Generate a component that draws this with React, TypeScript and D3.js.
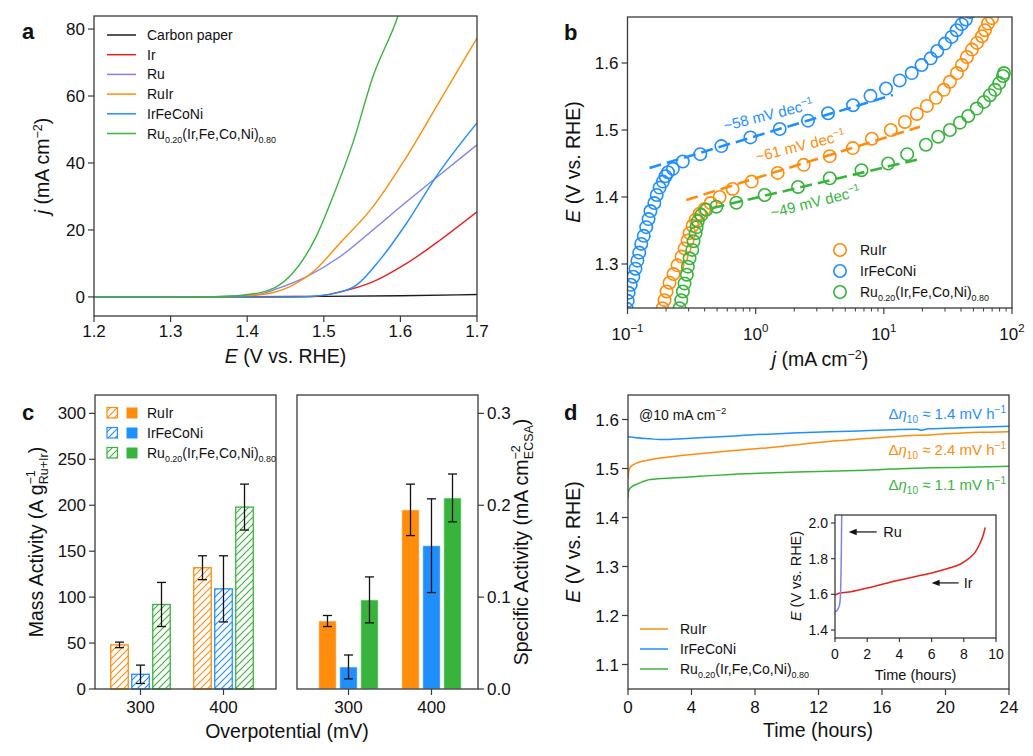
import React from "react";
import * as d3 from "d3";

type P = [number, number];

const FONT = "'Liberation Sans', Arial, Helvetica, sans-serif";
const AX = "#3a3a3a";

const cCarbon = "#1c1c1c";
const cIr = "#e5231d";
const cRu = "#8080ef";
const cRuIr = "#ff8c0c";
const cHEA = "#1f8ffe";
const cRu20 = "#38b43d";

// ---------------- Panel a : LSV  [E (V), j (mA cm-2)] ----------------
const lsvCarbon: P[] = [[1.2, 0], [1.4, 0.05], [1.5, 0.15], [1.6, 0.35], [1.7, 0.7]];
const lsvIr: P[] = [[1.2, 0], [1.45, 0], [1.486, 0.1], [1.521, 1.5], [1.564, 4.5], [1.608, 10], [1.652, 17], [1.7, 25.4]];
const lsvRu: P[] = [[1.2, 0], [1.35, 0.05], [1.412, 0.6], [1.442, 2.7], [1.477, 6], [1.521, 12], [1.564, 20], [1.608, 28.4], [1.648, 35.8], [1.7, 45.4]];
const lsvRuIr: P[] = [[1.2, 0], [1.37, 0.05], [1.416, 0.6], [1.455, 3], [1.486, 7.5], [1.521, 16], [1.564, 26.9], [1.608, 41.8], [1.652, 58.8], [1.7, 77.3]];
const lsvHEA: P[] = [[1.2, 0], [1.43, 0], [1.477, 0.1], [1.517, 1.2], [1.543, 3.6], [1.573, 11], [1.608, 22], [1.648, 36.4], [1.7, 52]];
const lsvRu20: P[] = [[1.2, 0], [1.36, 0.05], [1.416, 1.2], [1.455, 6], [1.49, 18], [1.512, 30], [1.538, 46], [1.564, 65.7], [1.595, 82.7], [1.6, 86]];
const aXTicks = [1.2, 1.3, 1.4, 1.5, 1.6, 1.7];
const aYTicks = [0, 20, 40, 60, 80];

// ---------------- Panel b : Tafel  [j (mA cm-2), E (V)] ----------------
const tafelRuIr: P[] = [[0.1876, 1.234], [0.1945, 1.246], [0.2017, 1.259], [0.2128, 1.272], [0.2287, 1.285], [0.2458, 1.298], [0.2642, 1.311], [0.2788, 1.323], [0.2943, 1.335], [0.3051, 1.346], [0.322, 1.357], [0.3398, 1.366], [0.3652, 1.375], [0.3995, 1.382], [0.4451, 1.391], [0.5233, 1.400], [0.6612, 1.412], [0.9306, 1.423], [1.485, 1.436], [2.371, 1.448], [3.785, 1.461], [5.726, 1.473], [8.058, 1.487], [11.34, 1.500], [14.59, 1.512], [18.1, 1.524], [21.68, 1.536], [25.49, 1.548], [29.43, 1.560], [32.78, 1.572], [37.19, 1.585], [40.69, 1.597], [44.5, 1.609], [48.7, 1.620], [53.31, 1.630], [58.3, 1.640], [61.53, 1.649], [64.94, 1.659], [69.82, 1.667]];
const tafelHEA: P[] = [[0.099, 1.233], [0.1005, 1.245], [0.102, 1.257], [0.106, 1.269], [0.111, 1.281], [0.1155, 1.293], [0.1195, 1.305], [0.1235, 1.317], [0.128, 1.330], [0.134, 1.342], [0.14, 1.355], [0.146, 1.367], [0.151, 1.379], [0.162, 1.391], [0.169, 1.403], [0.178, 1.414], [0.189, 1.423], [0.198, 1.431], [0.207, 1.437], [0.226, 1.442], [0.27, 1.453], [0.37, 1.464], [0.54, 1.476], [0.91, 1.489], [1.54, 1.5015], [2.56, 1.514], [3.67, 1.525], [5.75, 1.537], [7.87, 1.551], [10.4, 1.562], [13.3, 1.574], [16.5, 1.585], [19.7, 1.597], [23.2, 1.607], [26.1, 1.618], [30.0, 1.629], [33.8, 1.639], [37.0, 1.649], [40.5, 1.658], [43.7, 1.665], [47, 1.676]];
const tafelRu20: P[] = [[0.2547, 1.234], [0.2627, 1.246], [0.2704, 1.259], [0.2788, 1.271], [0.2905, 1.284], [0.2958, 1.296], [0.3051, 1.3085], [0.3202, 1.321], [0.3278, 1.334], [0.3398, 1.346], [0.346, 1.355], [0.354, 1.364], [0.3764, 1.373], [0.4118, 1.381], [0.4932, 1.3855], [0.7066, 1.3915], [1.176, 1.403], [2.14, 1.415], [3.785, 1.428], [6.695, 1.440], [10.8, 1.450], [15.21, 1.464], [21.29, 1.478], [26.57, 1.490], [32.78, 1.500], [39.26, 1.511], [45.56, 1.521], [53.01, 1.532], [60.43, 1.542], [67.31, 1.552], [73.65, 1.560], [79.57, 1.570], [85.06, 1.5806], [86.5, 1.585]];
const fitRuIr: P[] = [[0.2874, 1.3955], [19.11, 1.5049]];
const fitHEA: P[] = [[0.1486, 1.4433], [11.76, 1.5522]];
const fitRu20: P[] = [[0.4613, 1.3836], [19.11, 1.4567]];
const slopeLabels = ["~58 mV dec", "~61 mV dec", "~49 mV dec"];
const bXTicks = [0.1, 1, 10, 100];
const bXTickExp = ["\u22121", "0", "1", "2"];
const bYTicks = [1.3, 1.4, 1.5, 1.6];

// ---------------- Panel c : activities ----------------
const overpotentials = [300, 400];
const massRuIr = [48, 132];
const massRuIrErr = [3, 13];
const massHEA = [16, 109];
const massHEAErr = [10, 36];
const massRu20 = [92, 198];
const massRu20Err = [24, 25];
const specRuIr = [0.074, 0.195];
const specRuIrErr = [0.006, 0.028];
const specHEA = [0.024, 0.156];
const specHEAErr = [0.013, 0.051];
const specRu20 = [0.097, 0.208];
const specRu20Err = [0.025, 0.026];
const cYTicksMass = [0, 50, 100, 150, 200, 250, 300];
const cYTicksSpec = [0, 0.1, 0.2, 0.3];

// ---------------- Panel d : stability [t (h), E (V)] ----------------
const stabHEA: P[] = [[0, 1.565], [0.5, 1.563], [1.4, 1.5606], [2, 1.559], [3, 1.560], [4.5, 1.5626], [7, 1.567], [10.8, 1.573], [14, 1.576], [17.1, 1.5796], [18.2, 1.580], [18.5, 1.578], [18.9, 1.581], [20, 1.582], [22, 1.584], [24, 1.5864]];
const stabRuIr: P[] = [[0, 1.478], [0.05, 1.495], [0.15, 1.503], [0.35, 1.508], [1.4, 1.518], [3, 1.525], [4.5, 1.530], [6.5, 1.536], [8.7, 1.542], [10.8, 1.549], [12.9, 1.556], [15, 1.561], [17.1, 1.566], [19.2, 1.569], [21.3, 1.573], [22.5, 1.574], [24, 1.575]];
const stabRu20: P[] = [[0, 1.44], [0.02, 1.452], [0.1, 1.458], [0.25, 1.463], [0.7, 1.470], [1.4, 1.4776], [3, 1.481], [4.5, 1.484], [6.5, 1.488], [8.7, 1.491], [12, 1.494], [15, 1.4966], [19.2, 1.5014], [22, 1.503], [24, 1.5047]];
const stabRates = ["1.4", "2.4", "1.1"];
const insetRu: P[] = [[0, 1.50], [0.2, 1.52], [0.3, 1.55], [0.35, 1.62], [0.38, 1.75], [0.4, 1.9], [0.42, 2.06]];
const insetIr: P[] = [[0, 1.595], [0.3, 1.607], [1, 1.615], [2, 1.635], [3, 1.658], [4, 1.68], [5, 1.70], [6, 1.72], [7, 1.745], [7.8, 1.77], [8.3, 1.80], [8.7, 1.835], [9.0, 1.885], [9.2, 1.93], [9.33, 1.975]];
const dXTicks = [0, 4, 8, 12, 16, 20, 24];
const dYTicks = [1.1, 1.2, 1.3, 1.4, 1.5, 1.6];
const insetXTicks = [0, 2, 4, 6, 8, 10];
const insetYTicks = [1.4, 1.6, 1.8, 2.0];

// ------------------------------------------------------------------
const TICK = 17;
const TITLE = 19.5;
const LEG = 14;

function Ru20Text({ x, y, fs, fill = "#111", anchor = "start" }: any) {
  const s = fs * 0.64;
  const d = fs * 0.3;
  return (
    <text x={x} y={y} fontSize={fs} fill={fill} textAnchor={anchor}>
      Ru<tspan fontSize={s} dy={d}>0.20</tspan>
      <tspan dy={-d}>(Ir,Fe,Co,Ni)</tspan>
      <tspan fontSize={s} dy={d}>0.80</tspan>
    </text>
  );
}

function Frame({ x0, x1, y0, y1 }: any) {
  return <rect x={x0} y={y0} width={x1 - x0} height={y1 - y0} fill="none" stroke={AX} strokeWidth={1.3} />;
}

function YTicks({ scale, ticks, x, fmt, side = "left", fs = TICK, len = 6 }: any) {
  const s = side === "left" ? -1 : 1;
  return (
    <g>
      {ticks.map((t: number) => (
        <g key={t}>
          <line x1={x} x2={x + s * len} y1={scale(t)} y2={scale(t)} stroke={AX} strokeWidth={1.2} />
          <text x={x + s * (len + 3)} y={scale(t)} dy="0.36em" fontSize={fs} textAnchor={side === "left" ? "end" : "start"} fill="#111">
            {fmt(t)}
          </text>
        </g>
      ))}
    </g>
  );
}

function XTicks({ scale, ticks, y, fmt, fs = TICK, len = 6, off = 20 }: any) {
  return (
    <g>
      {ticks.map((t: number) => (
        <g key={t}>
          <line x1={scale(t)} x2={scale(t)} y1={y} y2={y + len} stroke={AX} strokeWidth={1.2} />
          <text x={scale(t)} y={y + off} fontSize={fs} textAnchor="middle" fill="#111">
            {fmt(t)}
          </text>
        </g>
      ))}
    </g>
  );
}

function PanelA() {
  const x = d3.scaleLinear().domain([1.2, 1.7]).range([94, 477]);
  const y = d3.scaleLinear().domain([-5.7, 83.9]).range([316, 16]);
  const line = d3.line<P>().x((d) => x(d[0])).y((d) => y(d[1])).curve(d3.curveMonotoneX);
  const series = [
    { name: "Carbon paper", color: cCarbon, data: lsvCarbon },
    { name: "Ir", color: cIr, data: lsvIr },
    { name: "Ru", color: cRu, data: lsvRu },
    { name: "RuIr", color: cRuIr, data: lsvRuIr },
    { name: "IrFeCoNi", color: cHEA, data: lsvHEA },
    { name: "Ru20", color: cRu20, data: lsvRu20 },
  ];
  const fmt = d3.format(".1f");
  return (
    <g>
      <clipPath id="clipA">
        <rect x={94} y={16} width={383} height={300} />
      </clipPath>
      <g clipPath="url(#clipA)">
        {series.map((s) => (
          <path key={s.name} d={line(s.data) as string} fill="none" stroke={s.color} strokeWidth={1.4} />
        ))}
      </g>
      <Frame x0={94} x1={477} y0={16} y1={316} />
      <XTicks scale={x} ticks={aXTicks} y={316} fmt={fmt} off={21} />
      <YTicks scale={y} ticks={aYTicks} x={94} fmt={(t: number) => String(t)} />
      {series.map((s, i) => {
        const ry = 35 + i * 19.7;
        return (
          <g key={s.name}>
            <line x1={107} x2={136} y1={ry} y2={ry} stroke={s.color} strokeWidth={1.5} />
            {s.name === "Ru20" ? (
              <Ru20Text x={147} y={ry + 5} fs={LEG} />
            ) : (
              <text x={147} y={ry + 5} fontSize={LEG} fill="#111">{s.name}</text>
            )}
          </g>
        );
      })}
      <text x={285.5} y={363} fontSize={TITLE} textAnchor="middle" fill="#111">
        <tspan fontStyle="italic">E</tspan> (V vs. RHE)
      </text>
      <text transform="translate(49,166) rotate(-90)" fontSize={TITLE} textAnchor="middle" fill="#111">
        <tspan fontStyle="italic">j</tspan> (mA cm<tspan fontSize={12.5} dy={-7}>{"\u22122"}</tspan>
        <tspan dy={7}>)</tspan>
      </text>
      <text x={22} y={39} fontSize={22} fontWeight="bold" fill="#111">a</text>
    </g>
  );
}

function PanelB() {
  const x = d3.scaleLog().domain([0.1, 100]).range([627.5, 1012]);
  const y = d3.scaleLinear().domain([1.2343, 1.6687]).range([308, 17]);
  const line = d3.line<P>().x((d) => x(d[0])).y((d) => y(d[1]));
  const series = [
    { name: "RuIr", color: cRuIr, data: tafelRuIr, fit: fitRuIr },
    { name: "IrFeCoNi", color: cHEA, data: tafelHEA, fit: fitHEA },
    { name: "Ru20", color: cRu20, data: tafelRu20, fit: fitRu20 },
  ];
  const minor = x.ticks().filter((t) => !bXTicks.some((m) => Math.abs(m - t) < 1e-9));
  const labelPos = [
    { x: 757, y: 162, color: cRuIr, text: slopeLabels[1] },
    { x: 725, y: 131, color: cHEA, text: slopeLabels[0] },
    { x: 772, y: 218, color: cRu20, text: slopeLabels[2] },
  ];
  return (
    <g>
      <clipPath id="clipB">
        <rect x={627.5} y={17} width={384.5} height={291} />
      </clipPath>
      <g clipPath="url(#clipB)">
        {series.map((s) => (
          <g key={s.name}>
            {s.data.map((d, i) => (
              <circle key={i} cx={x(d[0])} cy={y(d[1])} r={6.2} fill="none" stroke={s.color} strokeWidth={1.6} />
            ))}
          </g>
        ))}
        {series.map((s) => (
          <path key={s.name + "f"} d={line(s.fit) as string} fill="none" stroke={s.color} strokeWidth={2.6} strokeDasharray="12 6" />
        ))}
      </g>
      {labelPos.map((l) => (
        <text key={l.text} transform={`translate(${l.x},${l.y}) rotate(-14)`} fontSize={15} fill={l.color}>
          {l.text}
          <tspan fontSize={10} dy={-6}>{"\u22121"}</tspan>
        </text>
      ))}
      <Frame x0={627.5} x1={1012} y0={17} y1={308} />
      {minor.map((t) => (
        <line key={t} x1={x(t)} x2={x(t)} y1={308} y2={311.5} stroke={AX} strokeWidth={1} />
      ))}
      {bXTicks.map((t, i) => (
        <g key={t}>
          <line x1={x(t)} x2={x(t)} y1={308} y2={314} stroke={AX} strokeWidth={1.2} />
          <text x={x(t)} y={340} fontSize={TICK} textAnchor="middle" fill="#111">
            10<tspan fontSize={11.5} dy={-8}>{bXTickExp[i]}</tspan>
          </text>
        </g>
      ))}
      <YTicks scale={y} ticks={bYTicks} x={627.5} fmt={d3.format(".1f")} />
      {series.map((s, i) => {
        const ry = 250 + i * 21;
        return (
          <g key={s.name}>
            <circle cx={840} cy={ry} r={6.2} fill="none" stroke={s.color} strokeWidth={1.6} />
            {s.name === "Ru20" ? (
              <Ru20Text x={860} y={ry + 5} fs={LEG} />
            ) : (
              <text x={860} y={ry + 5} fontSize={LEG} fill="#111">{s.name}</text>
            )}
          </g>
        );
      })}
      <text x={820} y={366} fontSize={TITLE} textAnchor="middle" fill="#111">
        <tspan fontStyle="italic">j</tspan> (mA cm<tspan fontSize={12.5} dy={-7}>{"\u22122"}</tspan>
        <tspan dy={7}>)</tspan>
      </text>
      <text transform="translate(580,162) rotate(-90)" fontSize={TITLE} textAnchor="middle" fill="#111">
        <tspan fontStyle="italic">E</tspan> (V vs. RHE)
      </text>
      <text x={564} y={40} fontSize={22} fontWeight="bold" fill="#111">b</text>
    </g>
  );
}

function Bars({ xPos, yScale, groups, hatched }: any) {
  const bw = 17.5;
  const step = 21;
  return (
    <g>
      {groups.map((g: any, gi: number) =>
        overpotentials.map((op, oi) => {
          const cx = xPos(op) + (gi - 1) * step;
          const v = g.values[oi];
          const e = g.err[oi];
          const top = yScale(v);
          const base = yScale(0);
          return (
            <g key={g.name + op}>
              <rect
                x={cx - bw / 2}
                y={top}
                width={bw}
                height={base - top}
                fill={hatched ? `url(#hatch-${g.id})` : g.color}
                stroke={hatched ? g.color : "#ffffff"}
                strokeOpacity={hatched ? 1 : 0.6}
                strokeWidth={hatched ? 1.3 : 1}
              />
              <line x1={cx} x2={cx} y1={yScale(v + e)} y2={yScale(v - e)} stroke="#111" strokeWidth={1.3} />
              <line x1={cx - 4.5} x2={cx + 4.5} y1={yScale(v + e)} y2={yScale(v + e)} stroke="#111" strokeWidth={1.3} />
              <line x1={cx - 4.5} x2={cx + 4.5} y1={yScale(v - e)} y2={yScale(v - e)} stroke="#111" strokeWidth={1.3} />
            </g>
          );
        })
      )}
    </g>
  );
}

function PanelC() {
  const yM = d3.scaleLinear().domain([0, 320]).range([689, 395]);
  const yS = d3.scaleLinear().domain([0, 0.32]).range([689, 395]);
  const xL = d3.scaleLinear().domain([300, 400]).range([140.5, 223.5]);
  const xR = d3.scaleLinear().domain([300, 400]).range([348.5, 431.5]);
  const massGroups = [
    { id: "o", name: "RuIr", color: cRuIr, values: massRuIr, err: massRuIrErr },
    { id: "b", name: "IrFeCoNi", color: cHEA, values: massHEA, err: massHEAErr },
    { id: "g", name: "Ru20", color: cRu20, values: massRu20, err: massRu20Err },
  ];
  const specGroups = [
    { id: "o", name: "RuIr", color: cRuIr, values: specRuIr, err: specRuIrErr },
    { id: "b", name: "IrFeCoNi", color: cHEA, values: specHEA, err: specHEAErr },
    { id: "g", name: "Ru20", color: cRu20, values: specRu20, err: specRu20Err },
  ];
  return (
    <g>
      <Bars xPos={xL} yScale={yM} groups={massGroups} hatched={true} />
      <Bars xPos={xR} yScale={yS} groups={specGroups} hatched={false} />
      <Frame x0={95} x1={276} y0={395} y1={689} />
      <Frame x0={297} x1={478} y0={395} y1={689} />
      <YTicks scale={yM} ticks={cYTicksMass} x={95} fmt={(t: number) => String(t)} />
      <YTicks scale={yS} ticks={cYTicksSpec} x={478} side="right" fmt={d3.format(".1f")} />
      <XTicks scale={xL} ticks={overpotentials} y={689} fmt={String} off={24} />
      <XTicks scale={xR} ticks={overpotentials} y={689} fmt={String} off={24} />
      {massGroups.map((g, i) => {
        const ry = 413 + i * 20;
        return (
          <g key={g.name}>
            <rect x={107} y={ry - 5.5} width={10.5} height={10.5} fill={`url(#hatch-${g.id})`} stroke={g.color} strokeWidth={1.2} />
            <rect x={126.5} y={ry - 5.5} width={11} height={11} fill={g.color} />
            {g.name === "Ru20" ? (
              <Ru20Text x={147} y={ry + 5} fs={LEG} />
            ) : (
              <text x={147} y={ry + 5} fontSize={LEG} fill="#111">{g.name}</text>
            )}
          </g>
        );
      })}
      <text x={287} y={738} fontSize={TITLE} textAnchor="middle" fill="#111">Overpotential (mV)</text>
      <text transform="translate(43,542) rotate(-90)" fontSize={TITLE} textAnchor="middle" fill="#111">
        Mass Activity (A g<tspan fontSize={12.5} dy={-8}>{"\u22121"}</tspan>
        <tspan fontSize={12.5} dx={-14} dy={13}>Ru+Ir</tspan>
        <tspan dy={-5}>)</tspan>
      </text>
      <text transform="translate(528,542) rotate(-90)" fontSize={TITLE} textAnchor="middle" fill="#111">
        Specific Activity (mA cm<tspan fontSize={12.5} dy={-8}>{"\u22122"}</tspan>
        <tspan fontSize={12.5} dx={-14} dy={13}>ECSA</tspan>
        <tspan dy={-5}>)</tspan>
      </text>
      <text x={22} y={420} fontSize={22} fontWeight="bold" fill="#111">c</text>
    </g>
  );
}

function PanelD() {
  const x = d3.scaleLinear().domain([0, 24]).range([628, 1009]);
  const y = d3.scaleLinear().domain([1.05, 1.65]).range([689, 395]);
  const line = d3.line<P>().x((d) => x(d[0])).y((d) => y(d[1])).curve(d3.curveMonotoneX);
  const xi = d3.scaleLinear().domain([0, 10]).range([835, 996]);
  const yi = d3.scaleLinear().domain([1.355, 2.045]).range([638, 515]);
  const li = d3.line<P>().x((d) => xi(d[0])).y((d) => yi(d[1])).curve(d3.curveMonotoneX);
  const series = [
    { name: "RuIr", color: cRuIr, data: stabRuIr },
    { name: "IrFeCoNi", color: cHEA, data: stabHEA },
    { name: "Ru20", color: cRu20, data: stabRu20 },
  ];
  const rateLabels = [
    { y: 419, color: cHEA, val: stabRates[0] },
    { y: 455, color: cRuIr, val: stabRates[1] },
    { y: 490, color: cRu20, val: stabRates[2] },
  ];
  const arrow = (tx: number, ty: number, len: number) => (
    <g>
      <line x1={tx + 6} x2={tx + len} y1={ty} y2={ty} stroke="#111" strokeWidth={1.2} />
      <path d={`M${tx},${ty} L${tx + 8},${ty - 3.2} L${tx + 8},${ty + 3.2} Z`} fill="#111" />
    </g>
  );
  return (
    <g>
      <clipPath id="clipD">
        <rect x={628} y={395} width={381} height={294} />
      </clipPath>
      <g clipPath="url(#clipD)">
        {series.map((s) => (
          <path key={s.name} d={line(s.data) as string} fill="none" stroke={s.color} strokeWidth={1.5} />
        ))}
      </g>
      <Frame x0={628} x1={1009} y0={395} y1={689} />
      <XTicks scale={x} ticks={dXTicks} y={689} fmt={String} off={24} />
      <YTicks scale={y} ticks={dYTicks} x={628} fmt={d3.format(".1f")} />
      <text x={639} y={420} fontSize={14} fill="#111">
        @10 mA cm<tspan fontSize={9.5} dy={-6}>{"\u22122"}</tspan>
      </text>
      {rateLabels.map((r) => (
        <text key={r.val} x={1006} y={r.y} fontSize={15} textAnchor="end" fill={r.color}>
          {"\u0394"}<tspan fontStyle="italic">{"\u03b7"}</tspan>
          <tspan fontSize={10} dy={4}>10</tspan>
          <tspan dy={-4}>{` \u2248 ${r.val} mV h`}</tspan>
          <tspan fontSize={10} dy={-6}>{"\u22121"}</tspan>
        </text>
      ))}
      {series.map((s, i) => {
        const ry = 629 + i * 20;
        return (
          <g key={s.name}>
            <line x1={640} x2={668} y1={ry} y2={ry} stroke={s.color} strokeWidth={1.5} />
            {s.name === "Ru20" ? (
              <Ru20Text x={680} y={ry + 5} fs={LEG} />
            ) : (
              <text x={680} y={ry + 5} fontSize={LEG} fill="#111">{s.name}</text>
            )}
          </g>
        );
      })}
      {/* inset */}
      <rect x={835} y={515} width={161} height={123} fill="#fff" />
      <clipPath id="clipI">
        <rect x={835} y={515} width={161} height={123} />
      </clipPath>
      <g clipPath="url(#clipI)">
        <path d={li(insetIr) as string} fill="none" stroke={cIr} strokeWidth={1.5} />
        <path d={li(insetRu) as string} fill="none" stroke={cRu} strokeWidth={1.5} />
      </g>
      <Frame x0={835} x1={996} y0={515} y1={638} />
      <XTicks scale={xi} ticks={insetXTicks} y={638} fmt={String} fs={14} len={4} off={21} />
      <YTicks scale={yi} ticks={insetYTicks} x={835} fmt={d3.format(".1f")} fs={14} len={4} />
      <text x={915.5} y={680} fontSize={14.5} textAnchor="middle" fill="#111">Time (hours)</text>
      <text transform="translate(801,576) rotate(-90)" fontSize={14.5} textAnchor="middle" fill="#111">
        <tspan fontStyle="italic">E</tspan> (V vs. RHE)
      </text>
      {arrow(xi(0.85), yi(1.95), 28)}
      <text x={xi(3.0)} y={yi(1.95) + 5} fontSize={14.5} fill="#111">Ru</text>
      {arrow(xi(6.0), yi(1.664), 27)}
      <text x={xi(8.0)} y={yi(1.664) + 5} fontSize={14.5} fill="#111">Ir</text>

      <text x={818} y={737} fontSize={TITLE} textAnchor="middle" fill="#111">Time (hours)</text>
      <text transform="translate(580,542) rotate(-90)" fontSize={TITLE} textAnchor="middle" fill="#111">
        <tspan fontStyle="italic">E</tspan> (V vs. RHE)
      </text>
      <text x={564} y={420} fontSize={22} fontWeight="bold" fill="#111">d</text>
    </g>
  );
}

export default function App() {
  const hatches = [
    { id: "o", color: cRuIr },
    { id: "b", color: cHEA },
    { id: "g", color: cRu20 },
  ];
  return (
    <svg
      width={1033}
      height={756}
      viewBox="0 0 1033 756"
      style={{ position: "absolute", left: 0, top: 0, background: "#fff" }}
      fontFamily={FONT}
    >
      <defs>
        {hatches.map((h) => (
          <pattern key={h.id} id={`hatch-${h.id}`} patternUnits="userSpaceOnUse" width={7} height={7}>
            <rect width={7} height={7} fill="#fff" />
            <path d="M-1,1 L1,-1 M0,7 L7,0 M6,8 L8,6" stroke={h.color} strokeWidth={1.1} />
          </pattern>
        ))}
      </defs>
      <rect width={1033} height={756} fill="#fff" />
      <PanelA />
      <PanelB />
      <PanelC />
      <PanelD />
    </svg>
  );
}
